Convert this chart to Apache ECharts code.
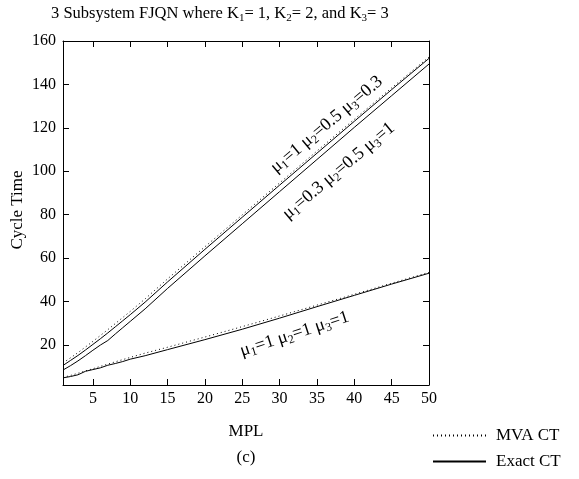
<!DOCTYPE html>
<html>
<head>
<meta charset="utf-8">
<script src="https://cdn.jsdelivr.net/npm/echarts@6/dist/echarts.min.js"></script>
<style>
  html, body { margin: 0; padding: 0; background: #fff; }
  #chart { width: 579px; height: 479px; }
</style>
</head>
<body>
<div id="chart"></div>
<script>
// MPL values
var mpl = [1, 2, 3, 4, 5, 6, 7, 8, 9, 10, 12, 15, 20, 25, 30, 35, 40, 45, 50]

// cycle times
var mvaUpper = [11.7, 14.0, 16.4, 19.0, 21.6, 24.3, 27.0, 29.8, 32.6, 35.4, 41.2, 50.4, 65.2, 79.9, 94.6, 109.3, 123.9, 138.4, 152.6]
var exactA = [10.5, 12.8, 15.1, 17.6, 20.2, 22.8, 25.5, 28.3, 31.1, 33.9, 39.7, 49.0, 64.0, 78.8, 93.6, 108.3, 123.0, 137.6, 152.0]
var exactB = [8.4, 10.4, 12.6, 15.0, 17.5, 19.9, 22.0, 25.0, 27.9, 30.8, 36.6, 46.0, 61.0, 75.8, 90.6, 105.4, 120.2, 134.8, 149.4]
var mvaLower = [5.0, 5.9, 6.9, 8.0, 9.0, 10.1, 11.1, 12.2, 13.2, 14.2, 16.2, 18.9, 23.6, 28.4, 33.3, 38.3, 43.3, 48.4, 53.4]
var exactLower = [4.8, 5.4, 6.2, 7.8, 8.6, 9.4, 10.6, 11.4, 12.3, 13.4, 15.0, 17.8, 22.4, 27.2, 32.3, 37.6, 42.8, 48.0, 53.0]

var xTicks = [5, 10, 15, 20, 25, 30, 35, 40, 45, 50]
var yTicks = [20, 40, 60, 80, 100, 120, 140, 160]

var FONT = '"Liberation Serif", "DejaVu Serif", serif'

function pairs(ys) {
  return mpl.map(function(x, i) { return [x, ys[i]] })
}

function line(name, ys, dotted) {
  return {
    name: name,
    type: 'line',
    data: pairs(ys),
    symbol: 'none',
    showSymbol: false,
    silent: true,
    lineStyle: { color: '#000', width: 1, type: dotted ? [1, 3] : 'solid' },
    itemStyle: { color: '#000' }
  }
}

var subStyle = { fontFamily: FONT, fontSize: 12, padding: [9, 0, 0, 0], color: '#000' }
var titleSub = { fontFamily: FONT, fontSize: 11, padding: [9, 0, 0, 0], color: '#000' }
var baseStyle = { fontFamily: FONT, fontSize: 18, color: '#000' }

function mu(a, b, c) {
  return '{m|\u03bc}{s|1}{m|=' + a + ' \u03bc}{s|2}{m|=' + b + ' \u03bc}{s|3}{m|=' + c + '}'
}

var chart = echarts.init(document.getElementById('chart'))

var axisCommon = {
  type: 'value',
  axisLine: { show: true, onZero: false, lineStyle: { color: '#000', width: 1 } },
  splitLine: { show: false }
}

chart.setOption({
  animation: false,
  title: {
    text: '3 Subsystem FJQN where K{s|1}= 1, K{s|2}= 2, and K{s|3}= 3',
    left: 46,
    top: -1,
    textStyle: {
      fontFamily: FONT,
      fontSize: 16.5,
      fontWeight: 'normal',
      color: '#000',
      rich: { s: titleSub }
    }
  },
  grid: { left: 63, top: 41, width: 366, height: 344 },
  legend: {
    orient: 'vertical',
    left: 432,
    top: 427,
    padding: 0,
    itemWidth: 53,
    itemHeight: 16,
    itemGap: 9,
    data: ['MVA CT', 'Exact CT'],
    itemStyle: { opacity: 0 },
    textStyle: { fontFamily: FONT, fontSize: 17, lineHeight: 17, color: '#000', padding: [0, 0, 0, 5] }
  },
  xAxis: [
    Object.assign({}, axisCommon, {
      min: 1,
      max: 50,
      position: 'bottom',
      axisTick: { inside: true, length: 6, customValues: xTicks, lineStyle: { color: '#000' } },
      axisLabel: { customValues: xTicks, fontFamily: FONT, fontSize: 16, color: '#000', margin: 6 }
    }),
    Object.assign({}, axisCommon, {
      min: 1,
      max: 50,
      position: 'top',
      axisTick: { inside: true, length: 6, customValues: xTicks, lineStyle: { color: '#000' } },
      axisLabel: { show: false }
    })
  ],
  yAxis: [
    Object.assign({}, axisCommon, {
      min: 1.5,
      max: 160,
      position: 'left',
      axisTick: { inside: true, length: 6, customValues: yTicks, lineStyle: { color: '#000' } },
      axisLabel: { customValues: yTicks, fontFamily: FONT, fontSize: 16, color: '#000', margin: 7 }
    }),
    Object.assign({}, axisCommon, {
      min: 1.5,
      max: 160,
      position: 'right',
      axisTick: { inside: true, length: 6, customValues: yTicks, lineStyle: { color: '#000' } },
      axisLabel: { show: false }
    })
  ],
  series: [
    line('MVA CT', mvaUpper, true),
    line('Exact CT', exactA, false),
    line('Exact CT', exactB, false),
    line('MVA CT', mvaLower, true),
    line('Exact CT', exactLower, false)
  ]
})

// annotations anchored in data space
function at(x, y) { return chart.convertToPixel({ gridIndex: 0 }, [x, y]) }

function label(x, y, text, deg) {
  var p = at(x, y)
  return {
    type: 'text',
    x: p[0],
    y: p[1],
    rotation: deg * Math.PI / 180,
    silent: true,
    style: {
      text: text,
      rich: { m: baseStyle, s: subStyle },
      align: 'center',
      verticalAlign: 'middle',
      fill: '#000'
    }
  }
}

chart.setOption({
  graphic: [
    label(36.3, 121.5, mu('1', '0.5', '0.3'), 40),
    label(37.9, 100.1, mu('0.3', '0.5', '1'), 40),
    label(32.0, 25.0, mu('1', '1', '1'), 18),
    {
      type: 'text', x: 18, y: 210, rotation: Math.PI / 2, silent: true,
      style: { text: 'Cycle Time', font: '17px ' + FONT, fill: '#000', align: 'center', verticalAlign: 'middle' }
    },
    {
      type: 'text', x: 246, y: 432, silent: true,
      style: { text: 'MPL', font: '17px ' + FONT, fill: '#000', align: 'center', verticalAlign: 'middle' }
    },
    {
      type: 'text', x: 246, y: 458, silent: true,
      style: { text: '(c)', font: '17px ' + FONT, fill: '#000', align: 'center', verticalAlign: 'middle' }
    }
  ]
})
</script>
</body>
</html>
